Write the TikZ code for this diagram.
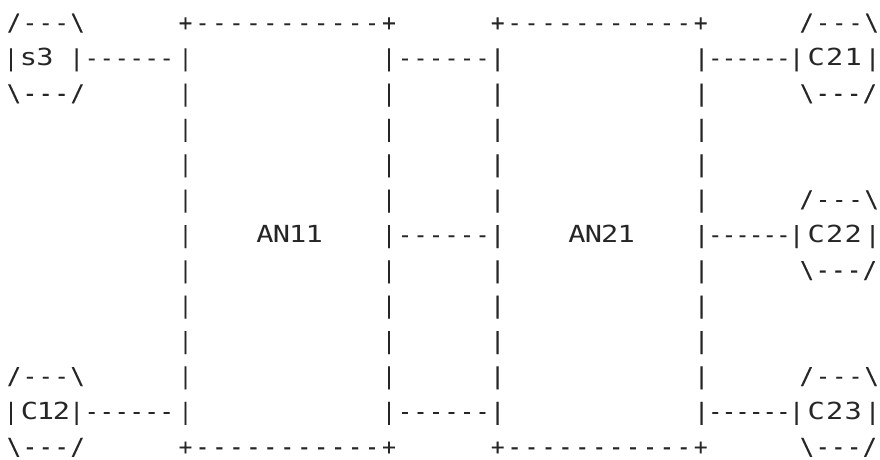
\documentclass[tikz,border=0pt]{standalone}
\usepackage{fontspec}
\newfontfamily\asciifont[FakeBold=0.15]{DejaVu Sans Mono}
\newfontfamily\asciiletters[FakeStretch=1.22]{DejaVu Sans Mono}
\makeatletter
\def\ascw{10pt}
\newcommand\cellrow[2]{\def\ascw{#1}\asc@loop#2\relax}
\def\asc@loop#1{\ifx\relax#1\else\asc@cell{#1}\expandafter\asc@loop\fi}
\def\asc@cell#1{\makebox[\ascw][c]{\ifx*#1\textbackslash\else\ifx.#1\else#1\fi\fi}}
\makeatother
\tikzset{
  asciitxt/.style={inner sep=0pt, outer sep=0pt, anchor=base west,
    text=black!85, font=\asciifont\fontsize{23pt}{28pt}\selectfont},
  asciilbl/.style={asciitxt, font=\asciiletters\fontsize{23.5pt}{28pt}\selectfont}
}
% \run{name}{row}{centre x of first char}{cell width}{chars}
\newcommand\run[5]{\node[asciitxt] (#1) at ({(#3-#4/2)*1pt},{-(30.5+35.35*#2)*1pt}) {\cellrow{#4pt}{#5}};}
\newcommand\runL[5]{\node[asciilbl] (#1) at ({(#3-#4/2)*1pt},{-(30.5+35.35*#2)*1pt}) {\cellrow{#4pt}{#5}};}
\begin{document}
\begin{tikzpicture}
\fill[white] (0,0) rectangle (880pt,-460pt);
\useasboundingbox (0,0) rectangle (880pt,-460pt);
% row 0
\run{s3top}{0}{14}{15.9}{/---*}
\run{anatop}{0}{185.5}{16.96}{+-----------+}
\run{anbtop}{0}{497.7}{16.92}{+-----------+}
\run{catop}{0}{806.7}{16.25}{/---*}
% row 1
\run{s3l}{1}{11}{10}{|}
\runL{s3}{1}{28.5}{16.4}{s3}
\run{s3r}{1}{76.7}{10}{|}
\run{la}{1}{91.7}{15}{------}
\run{ba1l}{1}{185.5}{10}{|}
\run{ba1r}{1}{389}{10}{|}
\run{ma}{1}{405}{15.5}{------}
\run{bb1l}{1}{497.7}{10}{|}
\run{bb1r}{1}{701.7}{10}{|}
\run{ra}{1}{715.3}{13.6}{------}
\run{c21l}{1}{796.7}{10}{|}
\runL{c21}{1}{816.2}{18.5}{C21}
\run{c21r}{1}{872.7}{10}{|}
% row 2
\run{s3bot}{2}{14}{15.9}{*---/}
\run{ba2l}{2}{185.5}{10}{|}
\run{ba2r}{2}{389}{10}{|}
\run{bb2l}{2}{497.7}{10}{|}
\run{bb2r}{2}{701.7}{10}{|}
\run{cabot}{2}{807}{15.7}{*---/}
% rows 3-4
\foreach \r in {3,4}{
  \run{ba\r l}{\r}{185.5}{10}{|}
  \run{ba\r r}{\r}{389}{10}{|}
  \run{bb\r l}{\r}{497.7}{10}{|}
  \run{bb\r r}{\r}{701.7}{10}{|}
}
% row 5
\run{ba5l}{5}{185.5}{10}{|}
\run{ba5r}{5}{389}{10}{|}
\run{bb5l}{5}{497.7}{10}{|}
\run{bb5r}{5}{701.7}{10}{|}
\run{cbtop}{5}{806.7}{16.25}{/---*}
% row 6
\run{ba6l}{6}{185.5}{10}{|}
\runL{an11}{6}{265}{16.4}{AN11}
\run{ba6r}{6}{389}{10}{|}
\run{mb}{6}{405}{15.5}{------}
\run{bb6l}{6}{497.7}{10}{|}
\runL{an21}{6}{577}{16.4}{AN21}
\run{bb6r}{6}{701.7}{10}{|}
\run{rb}{6}{715.3}{13.6}{------}
\run{c22l}{6}{796.7}{10}{|}
\runL{c22}{6}{816.2}{18.5}{C22}
\run{c22r}{6}{872.7}{10}{|}
% row 7
\run{ba7l}{7}{185.5}{10}{|}
\run{ba7r}{7}{389}{10}{|}
\run{bb7l}{7}{497.7}{10}{|}
\run{bb7r}{7}{701.7}{10}{|}
\run{cbbot}{7}{807}{15.7}{*---/}
% rows 8-9
\foreach \r in {8,9}{
  \run{ba\r l}{\r}{185.5}{10}{|}
  \run{ba\r r}{\r}{389}{10}{|}
  \run{bb\r l}{\r}{497.7}{10}{|}
  \run{bb\r r}{\r}{701.7}{10}{|}
}
% row 10
\run{c12top}{10}{14}{15.9}{/---*}
\run{ba10l}{10}{185.5}{10}{|}
\run{ba10r}{10}{389}{10}{|}
\run{bb10l}{10}{497.7}{10}{|}
\run{bb10r}{10}{701.7}{10}{|}
\run{cctop}{10}{806.7}{16.25}{/---*}
% row 11
\run{c12l}{11}{11}{10}{|}
\runL{c12}{11}{29.5}{16}{C12}
\run{c12r}{11}{76.7}{10}{|}
\run{lc}{11}{91.7}{15}{------}
\run{ba11l}{11}{185.5}{10}{|}
\run{ba11r}{11}{389}{10}{|}
\run{mc}{11}{405}{15.5}{------}
\run{bb11l}{11}{497.7}{10}{|}
\run{bb11r}{11}{701.7}{10}{|}
\run{rc}{11}{715.3}{13.6}{------}
\run{c23l}{11}{796.7}{10}{|}
\runL{c23}{11}{816.2}{18.5}{C23}
\run{c23r}{11}{872.7}{10}{|}
% row 12
\run{c12bot}{12}{14}{15.9}{*---/}
\run{anabot}{12}{185.5}{16.96}{+-----------+}
\run{anbbot}{12}{497.7}{16.92}{+-----------+}
\run{ccbot}{12}{807}{15.7}{*---/}
\end{tikzpicture}
\end{document}
